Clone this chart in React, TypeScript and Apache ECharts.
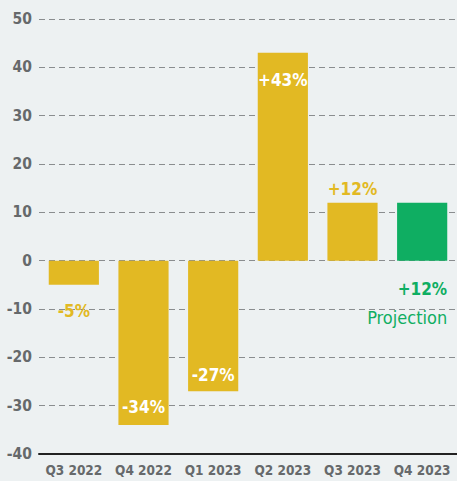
import React, { useEffect, useRef } from "react";
import * as echarts from "echarts";

const categories = ["Q3 2022", "Q4 2022", "Q1 2023", "Q2 2023", "Q3 2023", "Q4 2023"];
const values = [-5, -34, -27, 43, 12, 12];
const valueLabels = ["-5%", "-34%", "-27%", "+43%", "+12%", "+12%"];
const projectionText = "Projection";

const YELLOW = "#e2b923";
const GREEN = "#0fae62";
const GRAY = "#66696b";
const FONT = "'Liberation Sans Narrow', 'Arial Narrow', 'DejaVu Sans Condensed', 'Roboto Condensed', sans-serif";

export default function App() {
  const ref = useRef<HTMLDivElement>(null);
  useEffect(() => {
    const chart = echarts.init(ref.current!, null, { renderer: "svg" });
    const labelCfg: any[] = [
      { show: true, position: "bottom", distance: 18, color: YELLOW },
      { show: true, position: "insideBottom", distance: 10, color: "#ffffff" },
      { show: true, position: "insideBottom", distance: 8, color: "#ffffff" },
      { show: true, position: "insideTop", distance: 19, color: "#ffffff" },
      { show: true, position: "top", distance: 5, color: YELLOW },
      {
        show: true,
        position: "bottom",
        distance: 14,
        offset: [-15, 0],
        formatter: () => `{a|${valueLabels[5]}}\n{b|${projectionText}}`,
        rich: {
          a: { fontFamily: FONT, fontWeight: "bold", fontSize: 17, color: GREEN, align: "right", lineHeight: 28 },
          b: { fontFamily: FONT, fontWeight: "normal", fontSize: 18, color: GREEN, lineHeight: 30 },
        },
      },
    ];
    const data = values.map((v, i) => ({
      value: v,
      itemStyle: { color: i === 5 ? GREEN : YELLOW },
      label: {
        fontFamily: FONT,
        fontWeight: "bold",
        fontSize: 17,
        formatter: () => valueLabels[i],
        ...labelCfg[i],
      },
    }));
    chart.setOption({
      animation: false,
      backgroundColor: "#edf1f2",
      grid: { left: 39, right: -5, top: 19, bottom: 27, containLabel: false },
      xAxis: {
        type: "category",
        data: categories,
        axisLine: { onZero: false, lineStyle: { color: "#222222", width: 2 } },
        axisTick: { show: false },
        axisLabel: { interval: 0, color: GRAY, fontFamily: FONT, fontWeight: "bold", fontSize: 13.5, margin: 9 },
      },
      yAxis: {
        type: "value",
        min: -40,
        max: 50,
        interval: 10,
        axisLine: { show: false },
        axisTick: { show: false },
        axisLabel: { color: GRAY, fontFamily: FONT, fontWeight: "bold", fontSize: 15.5, margin: 7 },
        splitLine: { lineStyle: { color: "#8a8d8f", type: [6, 4], width: 1 } },
      },
      series: [
        {
          type: "bar",
          data,
          barCategoryGap: "28%",
        },
      ],
    });
    return () => chart.dispose();
  }, []);
  return <div ref={ref} style={{ width: 457, height: 481, position: "absolute", left: 0, top: 0 }} />;
}
